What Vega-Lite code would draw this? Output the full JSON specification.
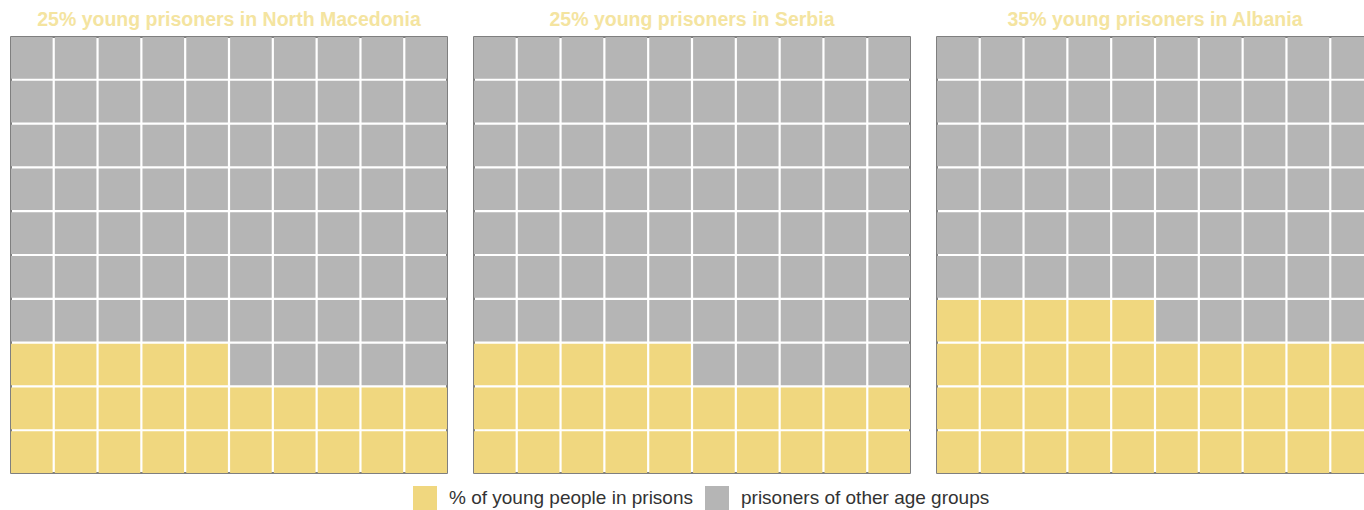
{
"$schema":"https://vega.github.io/schema/vega-lite/v6.json",
"padding":{"left":10,"top":9,"right":0,"bottom":0},
"autosize":{"type":"pad"},
"background":"white",
"data":{"values":[
{"country":"North Macedonia","row":1,"col":1,"group":"other"},{"country":"North Macedonia","row":1,"col":2,"group":"other"},{"country":"North Macedonia","row":1,"col":3,"group":"other"},{"country":"North Macedonia","row":1,"col":4,"group":"other"},{"country":"North Macedonia","row":1,"col":5,"group":"other"},{"country":"North Macedonia","row":1,"col":6,"group":"other"},{"country":"North Macedonia","row":1,"col":7,"group":"other"},{"country":"North Macedonia","row":1,"col":8,"group":"other"},{"country":"North Macedonia","row":1,"col":9,"group":"other"},{"country":"North Macedonia","row":1,"col":10,"group":"other"},
{"country":"North Macedonia","row":2,"col":1,"group":"other"},{"country":"North Macedonia","row":2,"col":2,"group":"other"},{"country":"North Macedonia","row":2,"col":3,"group":"other"},{"country":"North Macedonia","row":2,"col":4,"group":"other"},{"country":"North Macedonia","row":2,"col":5,"group":"other"},{"country":"North Macedonia","row":2,"col":6,"group":"other"},{"country":"North Macedonia","row":2,"col":7,"group":"other"},{"country":"North Macedonia","row":2,"col":8,"group":"other"},{"country":"North Macedonia","row":2,"col":9,"group":"other"},{"country":"North Macedonia","row":2,"col":10,"group":"other"},
{"country":"North Macedonia","row":3,"col":1,"group":"other"},{"country":"North Macedonia","row":3,"col":2,"group":"other"},{"country":"North Macedonia","row":3,"col":3,"group":"other"},{"country":"North Macedonia","row":3,"col":4,"group":"other"},{"country":"North Macedonia","row":3,"col":5,"group":"other"},{"country":"North Macedonia","row":3,"col":6,"group":"other"},{"country":"North Macedonia","row":3,"col":7,"group":"other"},{"country":"North Macedonia","row":3,"col":8,"group":"other"},{"country":"North Macedonia","row":3,"col":9,"group":"other"},{"country":"North Macedonia","row":3,"col":10,"group":"other"},
{"country":"North Macedonia","row":4,"col":1,"group":"other"},{"country":"North Macedonia","row":4,"col":2,"group":"other"},{"country":"North Macedonia","row":4,"col":3,"group":"other"},{"country":"North Macedonia","row":4,"col":4,"group":"other"},{"country":"North Macedonia","row":4,"col":5,"group":"other"},{"country":"North Macedonia","row":4,"col":6,"group":"other"},{"country":"North Macedonia","row":4,"col":7,"group":"other"},{"country":"North Macedonia","row":4,"col":8,"group":"other"},{"country":"North Macedonia","row":4,"col":9,"group":"other"},{"country":"North Macedonia","row":4,"col":10,"group":"other"},
{"country":"North Macedonia","row":5,"col":1,"group":"other"},{"country":"North Macedonia","row":5,"col":2,"group":"other"},{"country":"North Macedonia","row":5,"col":3,"group":"other"},{"country":"North Macedonia","row":5,"col":4,"group":"other"},{"country":"North Macedonia","row":5,"col":5,"group":"other"},{"country":"North Macedonia","row":5,"col":6,"group":"other"},{"country":"North Macedonia","row":5,"col":7,"group":"other"},{"country":"North Macedonia","row":5,"col":8,"group":"other"},{"country":"North Macedonia","row":5,"col":9,"group":"other"},{"country":"North Macedonia","row":5,"col":10,"group":"other"},
{"country":"North Macedonia","row":6,"col":1,"group":"other"},{"country":"North Macedonia","row":6,"col":2,"group":"other"},{"country":"North Macedonia","row":6,"col":3,"group":"other"},{"country":"North Macedonia","row":6,"col":4,"group":"other"},{"country":"North Macedonia","row":6,"col":5,"group":"other"},{"country":"North Macedonia","row":6,"col":6,"group":"other"},{"country":"North Macedonia","row":6,"col":7,"group":"other"},{"country":"North Macedonia","row":6,"col":8,"group":"other"},{"country":"North Macedonia","row":6,"col":9,"group":"other"},{"country":"North Macedonia","row":6,"col":10,"group":"other"},
{"country":"North Macedonia","row":7,"col":1,"group":"other"},{"country":"North Macedonia","row":7,"col":2,"group":"other"},{"country":"North Macedonia","row":7,"col":3,"group":"other"},{"country":"North Macedonia","row":7,"col":4,"group":"other"},{"country":"North Macedonia","row":7,"col":5,"group":"other"},{"country":"North Macedonia","row":7,"col":6,"group":"other"},{"country":"North Macedonia","row":7,"col":7,"group":"other"},{"country":"North Macedonia","row":7,"col":8,"group":"other"},{"country":"North Macedonia","row":7,"col":9,"group":"other"},{"country":"North Macedonia","row":7,"col":10,"group":"other"},
{"country":"North Macedonia","row":8,"col":1,"group":"young"},{"country":"North Macedonia","row":8,"col":2,"group":"young"},{"country":"North Macedonia","row":8,"col":3,"group":"young"},{"country":"North Macedonia","row":8,"col":4,"group":"young"},{"country":"North Macedonia","row":8,"col":5,"group":"young"},{"country":"North Macedonia","row":8,"col":6,"group":"other"},{"country":"North Macedonia","row":8,"col":7,"group":"other"},{"country":"North Macedonia","row":8,"col":8,"group":"other"},{"country":"North Macedonia","row":8,"col":9,"group":"other"},{"country":"North Macedonia","row":8,"col":10,"group":"other"},
{"country":"North Macedonia","row":9,"col":1,"group":"young"},{"country":"North Macedonia","row":9,"col":2,"group":"young"},{"country":"North Macedonia","row":9,"col":3,"group":"young"},{"country":"North Macedonia","row":9,"col":4,"group":"young"},{"country":"North Macedonia","row":9,"col":5,"group":"young"},{"country":"North Macedonia","row":9,"col":6,"group":"young"},{"country":"North Macedonia","row":9,"col":7,"group":"young"},{"country":"North Macedonia","row":9,"col":8,"group":"young"},{"country":"North Macedonia","row":9,"col":9,"group":"young"},{"country":"North Macedonia","row":9,"col":10,"group":"young"},
{"country":"North Macedonia","row":10,"col":1,"group":"young"},{"country":"North Macedonia","row":10,"col":2,"group":"young"},{"country":"North Macedonia","row":10,"col":3,"group":"young"},{"country":"North Macedonia","row":10,"col":4,"group":"young"},{"country":"North Macedonia","row":10,"col":5,"group":"young"},{"country":"North Macedonia","row":10,"col":6,"group":"young"},{"country":"North Macedonia","row":10,"col":7,"group":"young"},{"country":"North Macedonia","row":10,"col":8,"group":"young"},{"country":"North Macedonia","row":10,"col":9,"group":"young"},{"country":"North Macedonia","row":10,"col":10,"group":"young"},
{"country":"Serbia","row":1,"col":1,"group":"other"},{"country":"Serbia","row":1,"col":2,"group":"other"},{"country":"Serbia","row":1,"col":3,"group":"other"},{"country":"Serbia","row":1,"col":4,"group":"other"},{"country":"Serbia","row":1,"col":5,"group":"other"},{"country":"Serbia","row":1,"col":6,"group":"other"},{"country":"Serbia","row":1,"col":7,"group":"other"},{"country":"Serbia","row":1,"col":8,"group":"other"},{"country":"Serbia","row":1,"col":9,"group":"other"},{"country":"Serbia","row":1,"col":10,"group":"other"},
{"country":"Serbia","row":2,"col":1,"group":"other"},{"country":"Serbia","row":2,"col":2,"group":"other"},{"country":"Serbia","row":2,"col":3,"group":"other"},{"country":"Serbia","row":2,"col":4,"group":"other"},{"country":"Serbia","row":2,"col":5,"group":"other"},{"country":"Serbia","row":2,"col":6,"group":"other"},{"country":"Serbia","row":2,"col":7,"group":"other"},{"country":"Serbia","row":2,"col":8,"group":"other"},{"country":"Serbia","row":2,"col":9,"group":"other"},{"country":"Serbia","row":2,"col":10,"group":"other"},
{"country":"Serbia","row":3,"col":1,"group":"other"},{"country":"Serbia","row":3,"col":2,"group":"other"},{"country":"Serbia","row":3,"col":3,"group":"other"},{"country":"Serbia","row":3,"col":4,"group":"other"},{"country":"Serbia","row":3,"col":5,"group":"other"},{"country":"Serbia","row":3,"col":6,"group":"other"},{"country":"Serbia","row":3,"col":7,"group":"other"},{"country":"Serbia","row":3,"col":8,"group":"other"},{"country":"Serbia","row":3,"col":9,"group":"other"},{"country":"Serbia","row":3,"col":10,"group":"other"},
{"country":"Serbia","row":4,"col":1,"group":"other"},{"country":"Serbia","row":4,"col":2,"group":"other"},{"country":"Serbia","row":4,"col":3,"group":"other"},{"country":"Serbia","row":4,"col":4,"group":"other"},{"country":"Serbia","row":4,"col":5,"group":"other"},{"country":"Serbia","row":4,"col":6,"group":"other"},{"country":"Serbia","row":4,"col":7,"group":"other"},{"country":"Serbia","row":4,"col":8,"group":"other"},{"country":"Serbia","row":4,"col":9,"group":"other"},{"country":"Serbia","row":4,"col":10,"group":"other"},
{"country":"Serbia","row":5,"col":1,"group":"other"},{"country":"Serbia","row":5,"col":2,"group":"other"},{"country":"Serbia","row":5,"col":3,"group":"other"},{"country":"Serbia","row":5,"col":4,"group":"other"},{"country":"Serbia","row":5,"col":5,"group":"other"},{"country":"Serbia","row":5,"col":6,"group":"other"},{"country":"Serbia","row":5,"col":7,"group":"other"},{"country":"Serbia","row":5,"col":8,"group":"other"},{"country":"Serbia","row":5,"col":9,"group":"other"},{"country":"Serbia","row":5,"col":10,"group":"other"},
{"country":"Serbia","row":6,"col":1,"group":"other"},{"country":"Serbia","row":6,"col":2,"group":"other"},{"country":"Serbia","row":6,"col":3,"group":"other"},{"country":"Serbia","row":6,"col":4,"group":"other"},{"country":"Serbia","row":6,"col":5,"group":"other"},{"country":"Serbia","row":6,"col":6,"group":"other"},{"country":"Serbia","row":6,"col":7,"group":"other"},{"country":"Serbia","row":6,"col":8,"group":"other"},{"country":"Serbia","row":6,"col":9,"group":"other"},{"country":"Serbia","row":6,"col":10,"group":"other"},
{"country":"Serbia","row":7,"col":1,"group":"other"},{"country":"Serbia","row":7,"col":2,"group":"other"},{"country":"Serbia","row":7,"col":3,"group":"other"},{"country":"Serbia","row":7,"col":4,"group":"other"},{"country":"Serbia","row":7,"col":5,"group":"other"},{"country":"Serbia","row":7,"col":6,"group":"other"},{"country":"Serbia","row":7,"col":7,"group":"other"},{"country":"Serbia","row":7,"col":8,"group":"other"},{"country":"Serbia","row":7,"col":9,"group":"other"},{"country":"Serbia","row":7,"col":10,"group":"other"},
{"country":"Serbia","row":8,"col":1,"group":"young"},{"country":"Serbia","row":8,"col":2,"group":"young"},{"country":"Serbia","row":8,"col":3,"group":"young"},{"country":"Serbia","row":8,"col":4,"group":"young"},{"country":"Serbia","row":8,"col":5,"group":"young"},{"country":"Serbia","row":8,"col":6,"group":"other"},{"country":"Serbia","row":8,"col":7,"group":"other"},{"country":"Serbia","row":8,"col":8,"group":"other"},{"country":"Serbia","row":8,"col":9,"group":"other"},{"country":"Serbia","row":8,"col":10,"group":"other"},
{"country":"Serbia","row":9,"col":1,"group":"young"},{"country":"Serbia","row":9,"col":2,"group":"young"},{"country":"Serbia","row":9,"col":3,"group":"young"},{"country":"Serbia","row":9,"col":4,"group":"young"},{"country":"Serbia","row":9,"col":5,"group":"young"},{"country":"Serbia","row":9,"col":6,"group":"young"},{"country":"Serbia","row":9,"col":7,"group":"young"},{"country":"Serbia","row":9,"col":8,"group":"young"},{"country":"Serbia","row":9,"col":9,"group":"young"},{"country":"Serbia","row":9,"col":10,"group":"young"},
{"country":"Serbia","row":10,"col":1,"group":"young"},{"country":"Serbia","row":10,"col":2,"group":"young"},{"country":"Serbia","row":10,"col":3,"group":"young"},{"country":"Serbia","row":10,"col":4,"group":"young"},{"country":"Serbia","row":10,"col":5,"group":"young"},{"country":"Serbia","row":10,"col":6,"group":"young"},{"country":"Serbia","row":10,"col":7,"group":"young"},{"country":"Serbia","row":10,"col":8,"group":"young"},{"country":"Serbia","row":10,"col":9,"group":"young"},{"country":"Serbia","row":10,"col":10,"group":"young"},
{"country":"Albania","row":1,"col":1,"group":"other"},{"country":"Albania","row":1,"col":2,"group":"other"},{"country":"Albania","row":1,"col":3,"group":"other"},{"country":"Albania","row":1,"col":4,"group":"other"},{"country":"Albania","row":1,"col":5,"group":"other"},{"country":"Albania","row":1,"col":6,"group":"other"},{"country":"Albania","row":1,"col":7,"group":"other"},{"country":"Albania","row":1,"col":8,"group":"other"},{"country":"Albania","row":1,"col":9,"group":"other"},{"country":"Albania","row":1,"col":10,"group":"other"},
{"country":"Albania","row":2,"col":1,"group":"other"},{"country":"Albania","row":2,"col":2,"group":"other"},{"country":"Albania","row":2,"col":3,"group":"other"},{"country":"Albania","row":2,"col":4,"group":"other"},{"country":"Albania","row":2,"col":5,"group":"other"},{"country":"Albania","row":2,"col":6,"group":"other"},{"country":"Albania","row":2,"col":7,"group":"other"},{"country":"Albania","row":2,"col":8,"group":"other"},{"country":"Albania","row":2,"col":9,"group":"other"},{"country":"Albania","row":2,"col":10,"group":"other"},
{"country":"Albania","row":3,"col":1,"group":"other"},{"country":"Albania","row":3,"col":2,"group":"other"},{"country":"Albania","row":3,"col":3,"group":"other"},{"country":"Albania","row":3,"col":4,"group":"other"},{"country":"Albania","row":3,"col":5,"group":"other"},{"country":"Albania","row":3,"col":6,"group":"other"},{"country":"Albania","row":3,"col":7,"group":"other"},{"country":"Albania","row":3,"col":8,"group":"other"},{"country":"Albania","row":3,"col":9,"group":"other"},{"country":"Albania","row":3,"col":10,"group":"other"},
{"country":"Albania","row":4,"col":1,"group":"other"},{"country":"Albania","row":4,"col":2,"group":"other"},{"country":"Albania","row":4,"col":3,"group":"other"},{"country":"Albania","row":4,"col":4,"group":"other"},{"country":"Albania","row":4,"col":5,"group":"other"},{"country":"Albania","row":4,"col":6,"group":"other"},{"country":"Albania","row":4,"col":7,"group":"other"},{"country":"Albania","row":4,"col":8,"group":"other"},{"country":"Albania","row":4,"col":9,"group":"other"},{"country":"Albania","row":4,"col":10,"group":"other"},
{"country":"Albania","row":5,"col":1,"group":"other"},{"country":"Albania","row":5,"col":2,"group":"other"},{"country":"Albania","row":5,"col":3,"group":"other"},{"country":"Albania","row":5,"col":4,"group":"other"},{"country":"Albania","row":5,"col":5,"group":"other"},{"country":"Albania","row":5,"col":6,"group":"other"},{"country":"Albania","row":5,"col":7,"group":"other"},{"country":"Albania","row":5,"col":8,"group":"other"},{"country":"Albania","row":5,"col":9,"group":"other"},{"country":"Albania","row":5,"col":10,"group":"other"},
{"country":"Albania","row":6,"col":1,"group":"other"},{"country":"Albania","row":6,"col":2,"group":"other"},{"country":"Albania","row":6,"col":3,"group":"other"},{"country":"Albania","row":6,"col":4,"group":"other"},{"country":"Albania","row":6,"col":5,"group":"other"},{"country":"Albania","row":6,"col":6,"group":"other"},{"country":"Albania","row":6,"col":7,"group":"other"},{"country":"Albania","row":6,"col":8,"group":"other"},{"country":"Albania","row":6,"col":9,"group":"other"},{"country":"Albania","row":6,"col":10,"group":"other"},
{"country":"Albania","row":7,"col":1,"group":"young"},{"country":"Albania","row":7,"col":2,"group":"young"},{"country":"Albania","row":7,"col":3,"group":"young"},{"country":"Albania","row":7,"col":4,"group":"young"},{"country":"Albania","row":7,"col":5,"group":"young"},{"country":"Albania","row":7,"col":6,"group":"other"},{"country":"Albania","row":7,"col":7,"group":"other"},{"country":"Albania","row":7,"col":8,"group":"other"},{"country":"Albania","row":7,"col":9,"group":"other"},{"country":"Albania","row":7,"col":10,"group":"other"},
{"country":"Albania","row":8,"col":1,"group":"young"},{"country":"Albania","row":8,"col":2,"group":"young"},{"country":"Albania","row":8,"col":3,"group":"young"},{"country":"Albania","row":8,"col":4,"group":"young"},{"country":"Albania","row":8,"col":5,"group":"young"},{"country":"Albania","row":8,"col":6,"group":"young"},{"country":"Albania","row":8,"col":7,"group":"young"},{"country":"Albania","row":8,"col":8,"group":"young"},{"country":"Albania","row":8,"col":9,"group":"young"},{"country":"Albania","row":8,"col":10,"group":"young"},
{"country":"Albania","row":9,"col":1,"group":"young"},{"country":"Albania","row":9,"col":2,"group":"young"},{"country":"Albania","row":9,"col":3,"group":"young"},{"country":"Albania","row":9,"col":4,"group":"young"},{"country":"Albania","row":9,"col":5,"group":"young"},{"country":"Albania","row":9,"col":6,"group":"young"},{"country":"Albania","row":9,"col":7,"group":"young"},{"country":"Albania","row":9,"col":8,"group":"young"},{"country":"Albania","row":9,"col":9,"group":"young"},{"country":"Albania","row":9,"col":10,"group":"young"},
{"country":"Albania","row":10,"col":1,"group":"young"},{"country":"Albania","row":10,"col":2,"group":"young"},{"country":"Albania","row":10,"col":3,"group":"young"},{"country":"Albania","row":10,"col":4,"group":"young"},{"country":"Albania","row":10,"col":5,"group":"young"},{"country":"Albania","row":10,"col":6,"group":"young"},{"country":"Albania","row":10,"col":7,"group":"young"},{"country":"Albania","row":10,"col":8,"group":"young"},{"country":"Albania","row":10,"col":9,"group":"young"},{"country":"Albania","row":10,"col":10,"group":"young"}
]},
"facet":{"column":{"field":"country","type":"nominal","sort":["North Macedonia","Serbia","Albania"],
  "header":{"title":null,"labelExpr":"datum.value == 'North Macedonia' ? '25% young prisoners in North Macedonia' : datum.value == 'Serbia' ? '25% young prisoners in Serbia' : '35% young prisoners in Albania'",
    "labelColor":"#f4e4a0","labelFont":"Liberation Sans","labelFontWeight":"bold","labelFontSize":19.5,"labelPadding":-13,"labelBaseline":"bottom"}}},
"spacing":25,
"spec":{
  "width":436,"height":436,
  "mark":{"type":"rect"},
  "encoding":{
    "x":{"field":"col","type":"ordinal","axis":null,"scale":{"paddingInner":0.05,"paddingOuter":0}},
    "y":{"field":"row","type":"ordinal","axis":null,"scale":{"paddingInner":0.05,"paddingOuter":0}},
    "color":{"field":"group","type":"nominal",
      "scale":{"domain":["young","other"],"range":["#f0d77f","#b5b5b5"]},
      "legend":{"title":null,"orient":"none","direction":"horizontal","legendX":402,"legendY":449,
        "labelExpr":"datum.label == 'young' ? '% of young people in prisons' : 'prisoners of other age groups'",
        "symbolType":"square","symbolSize":576,"symbolStrokeWidth":0,"symbolOpacity":1,
        "labelFont":"Liberation Sans","labelFontSize":19,"labelColor":"#333333","labelOffset":12,"columnPadding":12,"labelLimit":400}}
  }
},
"config":{"view":{"stroke":"#555555","strokeWidth":1.5}}
}
